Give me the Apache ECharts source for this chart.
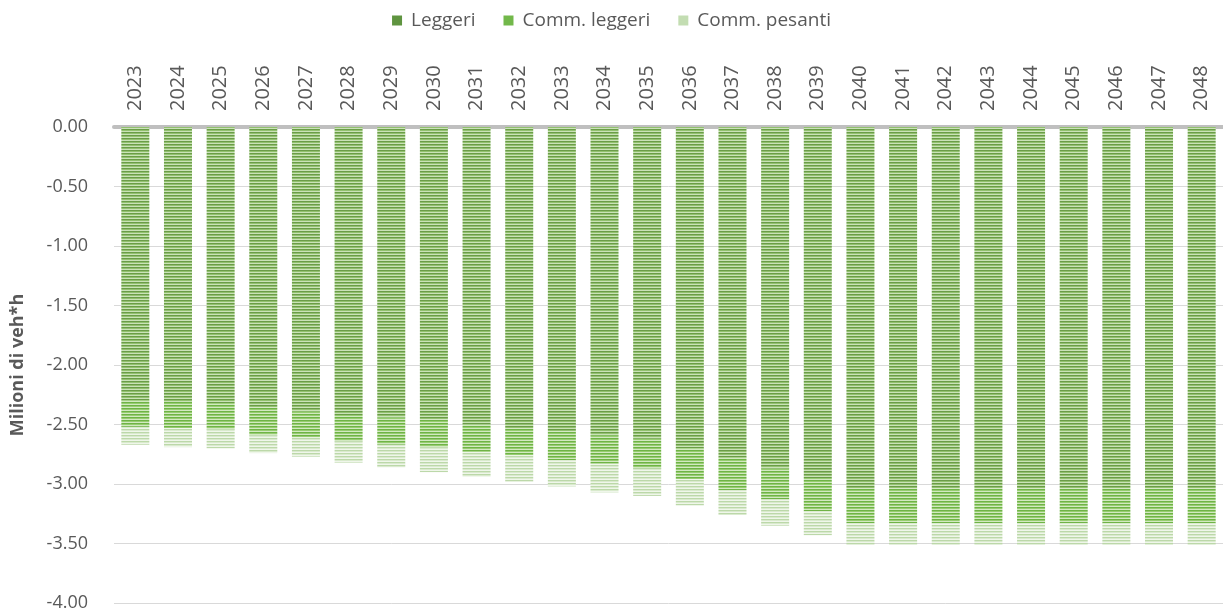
<!DOCTYPE html>
<html>
<head>
<meta charset="utf-8">
<script src="https://cdn.jsdelivr.net/npm/echarts@6/dist/echarts.min.js"></script>
<style>
  html, body { margin: 0; padding: 0; background: #ffffff; }
  #chart { width: 1223px; height: 612px; }
</style>
</head>
<body>
<div id="chart"></div>
<script>
// Years shown along the top axis
const years = ['2023','2024','2025','2026','2027','2028','2029','2030','2031','2032','2033','2034','2035',
               '2036','2037','2038','2039','2040','2041','2042','2043','2044','2045','2046','2047','2048'];

// Savings per vehicle class, millions of veh*h (negative = reduction)
const leggeri = [-2.30,-2.31,-2.32,-2.36,-2.39,-2.42,-2.44,-2.46,-2.50,-2.53,-2.56,-2.59,-2.62,
                 -2.70,-2.78,-2.87,-2.95,-3.04,-3.04,-3.04,-3.04,-3.04,-3.04,-3.04,-3.04,-3.04];
const commLeggeri = [-0.22,-0.22,-0.22,-0.23,-0.22,-0.22,-0.23,-0.23,-0.23,-0.23,-0.24,-0.24,-0.25,
                     -0.26,-0.27,-0.26,-0.28,-0.29,-0.29,-0.29,-0.29,-0.29,-0.29,-0.29,-0.29,-0.29];
const commPesanti = [-0.15,-0.16,-0.16,-0.15,-0.16,-0.18,-0.19,-0.21,-0.21,-0.22,-0.22,-0.24,-0.23,
                     -0.22,-0.21,-0.22,-0.20,-0.18,-0.18,-0.18,-0.18,-0.18,-0.18,-0.18,-0.18,-0.18];

// Y-axis tick range
const yMin = -4, yMax = 0, yStep = 0.5;

// Horizontal-stripe fill, rows given top to bottom
function stripes(rows) {
  const c = document.createElement('canvas');
  c.width = 4; c.height = rows.length;
  const g = c.getContext('2d');
  rows.forEach((col, i) => { g.fillStyle = col; g.fillRect(0, i, 4, 1); });
  return { image: c, repeat: 'repeat' };
}

const fillLeggeri = stripes(['#6b9c48', '#92c16f', '#cae2b8']);
const fillCommL   = stripes(['#6fb346', '#96cd70', '#d2e9c1']);
const fillCommP   = stripes(['#bcd8a9', '#d9eacd', '#eff6ea']);

const labelColor = '#595959';
const font = '"Open Sans", "Noto Sans", sans-serif';

const chart = echarts.init(document.getElementById('chart'), null, { renderer: 'canvas' });

chart.setOption({
  animation: false,
  backgroundColor: '#ffffff',
  textStyle: { fontFamily: font },
  legend: {
    top: 6,
    left: 'center',
    itemWidth: 10,
    itemHeight: 10,
    itemGap: 28,
    icon: 'rect',
    textStyle: { color: labelColor, fontSize: 19, fontFamily: font, padding: [0, 0, 0, 4] },
    data: [
      { name: 'Leggeri', itemStyle: { color: '#5f9440' } },
      { name: 'Comm. leggeri', itemStyle: { color: '#72b84a' } },
      { name: 'Comm. pesanti', itemStyle: { color: '#c3ddb2' } }
    ]
  },
  grid: { left: 114, top: 127, width: 1112, height: 476, containLabel: false },
  xAxis: {
    type: 'category',
    position: 'top',
    data: years,
    axisLine: { show: true, lineStyle: { color: '#bfbfbf', width: 4 } },
    axisTick: { show: false },
    axisLabel: {
      rotate: 90,
      color: labelColor,
      fontSize: 20,
      fontFamily: font,
      margin: 16,
      interval: 0
    }
  },
  yAxis: {
    type: 'value',
    min: yMin,
    max: yMax,
    interval: yStep,
    name: 'Milioni di veh*h',
    nameLocation: 'middle',
    nameGap: 87,
    nameTextStyle: { color: labelColor, fontSize: 18, fontWeight: 'bold', fontFamily: font },
    axisLine: { show: false },
    axisTick: { show: false },
    axisLabel: {
      color: labelColor,
      fontSize: 18,
      fontFamily: font,
      margin: 26,
      formatter: v => v.toFixed(2)
    },
    splitLine: { show: true, lineStyle: { color: '#d9d9d9', width: 1 } }
  },
  series: [
    { name: 'Leggeri', type: 'bar', stack: 'tot', barWidth: 28, data: leggeri,
      itemStyle: { color: fillLeggeri } },
    { name: 'Comm. leggeri', type: 'bar', stack: 'tot', barWidth: 28, data: commLeggeri,
      itemStyle: { color: fillCommL } },
    { name: 'Comm. pesanti', type: 'bar', stack: 'tot', barWidth: 28, data: commPesanti,
      itemStyle: { color: fillCommP } }
  ]
});
</script>
</body>
</html>
